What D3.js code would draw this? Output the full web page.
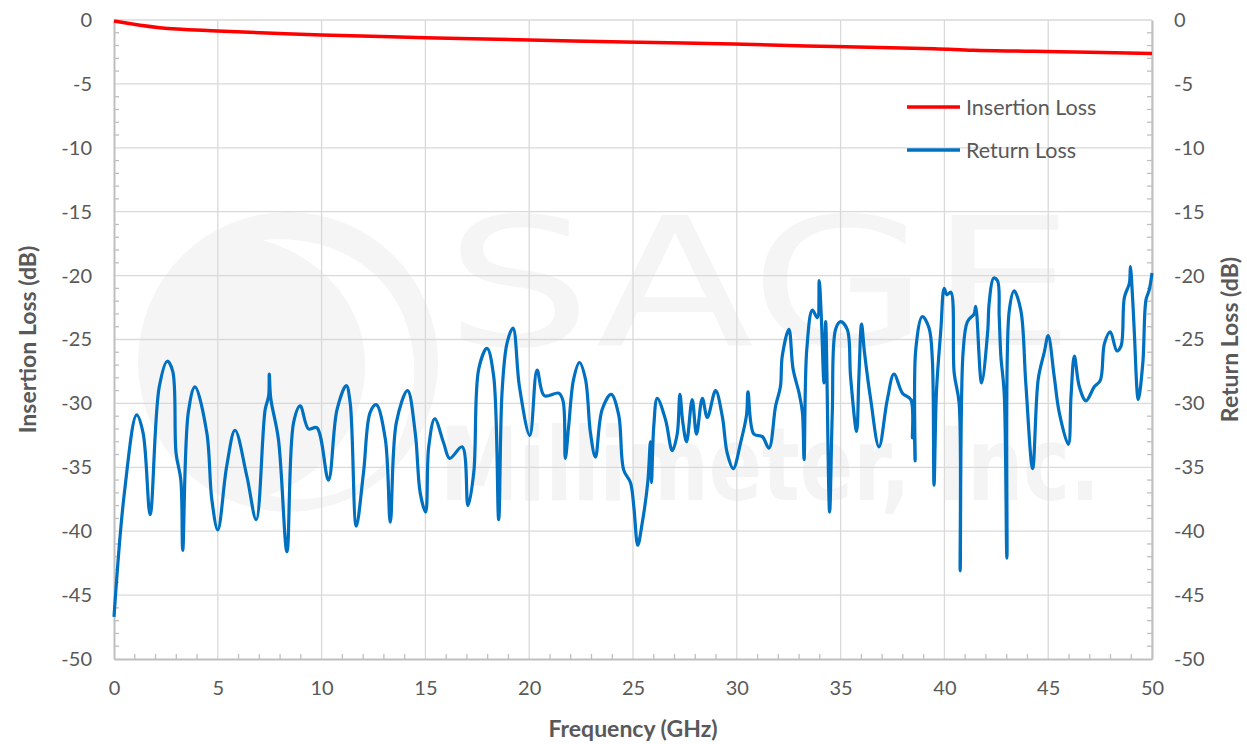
<!DOCTYPE html>
<html lang='en'>
<head>
  <meta charset='UTF-8'>
  <title>Insertion / Return Loss</title>
  <script src="https://d3js.org/d3.v7.min.js"></script>
  <style>
    body { margin: 0; background: #fff; }
    svg { display: block; }
    .tick text { font-family: 'Lato', 'Open Sans', sans-serif; font-size: 20px; fill: #595959; }
    .title { font-family: 'Lato', 'Open Sans', sans-serif; font-size: 23px; font-weight: bold; fill: #595959; }
    .legend { font-family: 'Lato', 'Open Sans', sans-serif; font-size: 21.5px; fill: #595959; }
  </style>
</head>
<body>
  <div id="chart"></div>
  <script>
    // Insertion loss (red)
    const ilFreq = [0, 2.2, 5, 10, 15, 20, 24.6, 29.85, 34.7, 39.5, 41.4, 44.3, 47, 50];
    const ilVal = [-0.08, -0.6, -0.86, -1.17, -1.38, -1.57, -1.72, -1.88, -2.08, -2.24, -2.37, -2.45, -2.52, -2.62];

    // Return loss (blue)
    const rlFreq = [
      0, 0.5, 1.09, 1.4, 1.74, 2.18, 2.57, 2.83, 2.99, 3.22, 3.31, 3.58, 3.9, 4.47, 4.71, 5.0,
      5.43, 5.83, 6.4, 6.85, 7.28, 7.45, 7.48, 7.55, 7.92, 8.33, 8.65, 8.97, 9.37, 9.77, 10.33,
      10.74, 11.19, 11.38, 11.67, 12.02, 12.34, 12.63, 13.07, 13.31, 13.6, 14.14, 14.51, 14.75,
      15.01, 15.16, 15.45, 15.88, 16.17, 16.77, 17.05, 17.33, 17.57, 17.97, 18.29, 18.53, 18.69,
      18.93, 19.22, 19.53, 20.03, 20.38, 20.73, 21.42, 21.63, 21.74, 21.9, 22.14, 22.42, 22.71,
      22.95, 23.19, 23.51, 23.95, 24.31, 24.55, 24.88, 25.04, 25.23, 25.44, 25.71, 25.84, 25.89,
      26.0, 26.17, 26.57, 26.89, 27.13, 27.26, 27.4, 27.58, 27.85, 28.06, 28.34, 28.58, 28.98,
      29.3, 29.54, 29.83, 30.18, 30.47, 30.54, 30.82, 31.23, 31.55, 31.87, 32.1, 32.19, 32.51,
      32.71, 33.0, 33.16, 33.24, 33.37, 33.64, 33.88, 33.97, 34.07, 34.2, 34.28, 34.47, 34.6,
      34.76, 35.0, 35.32, 35.48, 35.77, 35.88, 36.01, 36.15, 36.45, 36.85, 37.25, 37.57, 37.98,
      38.38, 38.46, 38.52, 38.59, 38.62, 38.94, 39.26, 39.42, 39.5, 39.62, 39.83, 39.99, 40.12,
      40.31, 40.47, 40.71, 40.76, 40.9, 41.11, 41.43, 41.51, 41.79, 42.08, 42.16, 42.37, 42.56,
      42.64, 42.72, 42.88, 43.01, 43.12, 43.36, 43.68, 43.92, 44.25, 44.52, 44.81, 45.0, 45.29,
      45.53, 45.97, 46.1, 46.26, 46.5, 46.82, 47.22, 47.51, 47.71, 47.99, 48.31, 48.51, 48.67,
      48.91, 48.96, 49.07, 49.15, 49.34, 49.56, 49.71, 49.87, 50.0
    ];
    const rlVal = [
      -46.7, -37.0, -30.9, -32.3, -38.7, -28.7, -26.7, -27.5, -33.9, -36.0, -41.5, -30.7, -28.7, -32.3, -37.5, -39.9,
      -34.9, -32.1, -35.7, -39.1, -30.5, -29.4, -27.7, -29.6, -32.8, -41.6, -31.5, -30.2, -32.0, -31.9, -36.0,
      -30.5, -28.6, -30.0, -39.6, -35.4, -30.7, -30.1, -32.8, -39.3, -31.5, -29.0, -32.3, -37.0,
      -38.5, -33.4, -31.2, -33.1, -34.3, -33.4, -38.0, -35.4, -27.3, -25.7, -27.9, -39.1, -29.2,
      -25.3, -24.1, -28.7, -32.5, -27.4, -29.4, -29.2, -29.8, -34.3, -31.8, -28.1, -26.8, -28.1,
      -32.3, -34.2, -30.5, -29.3, -30.9, -35.2, -36.2, -38.1, -41.1, -39.4, -36.2, -33.0, -36.2,
      -31.8, -29.6, -31.3, -33.7, -32.4, -29.3, -31.5, -33.0, -29.7, -32.4, -29.6, -31.1, -29.0,
      -31.0, -33.9, -35.1, -33.1, -30.9, -29.1, -32.4, -32.6, -33.5, -30.2, -28.7, -26.3, -24.2,
      -27.3, -29.2, -30.7, -34.4, -25.8, -22.7, -23.3, -20.4, -23.2, -28.4, -23.6, -38.5, -30.7,
      -24.2, -23.6, -24.2, -27.9, -32.2, -28.0, -23.8, -26.0, -29.7, -33.4, -29.7, -27.7, -29.2,
      -29.7, -32.7, -29.7, -34.5, -25.8, -23.2, -24.1, -26.6, -36.4, -29.0, -24.2, -21.0, -21.5,
      -21.3, -27.6, -30.0, -43.1, -26.0, -23.6, -23.0, -22.4, -28.4, -24.5, -22.1, -20.2, -20.4,
      -23.2, -26.3, -29.2, -42.1, -22.8, -21.2, -22.7, -28.4, -35.1, -28.1, -26.0, -24.7, -27.9,
      -30.7, -33.2, -29.4, -26.3, -28.7, -29.8, -28.7, -28.2, -25.3, -24.4, -25.9, -25.5, -21.7,
      -20.6, -19.3, -21.9, -24.5, -29.7, -26.8, -21.9, -21.1, -19.8
    ];

    const xTicks = [0, 5, 10, 15, 20, 25, 30, 35, 40, 45, 50];
    const yTicks = [0, -5, -10, -15, -20, -25, -30, -35, -40, -45, -50];
    const seriesNames = ['Insertion Loss', 'Return Loss'];
    const seriesColors = ['#ff0000', '#0070c0'];

    const W = 1247, H = 744;
    const margin = { top: 20, right: 95, bottom: 85, left: 114 };
    const innerW = W - margin.left - margin.right;
    const innerH = H - margin.top - margin.bottom;

    const svg = d3.select('#chart').append('svg')
      .attr('width', W).attr('height', H);

    const xScale = d3.scaleLinear().domain([0, 50]).range([margin.left, margin.left + innerW]);
    const yScale = d3.scaleLinear().domain([-50, 0]).range([margin.top + innerH, margin.top]);

    // watermark (faint logo behind grid)
    const wm = svg.append('g').attr('class', 'watermark');
    wm.append('circle').attr('cx', 288).attr('cy', 362).attr('r', 150).attr('fill', '#f5f5f5');
    wm.append('path')
      .attr('d', 'M 262 240 C 380 230, 445 330, 400 440 C 370 500, 300 505, 270 495 C 340 470, 380 400, 360 330 C 345 280, 300 250, 262 240 Z')
      .attr('fill', '#ffffff');
    wm.append('text')
      .attr('x', 445).attr('y', 345)
      .attr('textLength', 630).attr('lengthAdjust', 'spacingAndGlyphs')
      .style('font-family', 'DejaVu Sans').style('font-size', '178px')
      .attr('fill', '#f5f5f5')
      .text('SAGE');
    wm.append('text')
      .attr('x', 440).attr('y', 500)
      .attr('textLength', 660).attr('lengthAdjust', 'spacingAndGlyphs')
      .style('font-family', 'DejaVu Sans').style('font-size', '102px').style('font-weight', 'bold')
      .attr('fill', '#f4f4f4')
      .text('Millimeter, Inc.');

    // grid
    svg.append('g').selectAll('line').data(xTicks.slice(1)).join('line')
      .attr('x1', (d) => xScale(d)).attr('x2', (d) => xScale(d))
      .attr('y1', margin.top).attr('y2', margin.top + innerH)
      .attr('stroke', '#d9d9d9').attr('stroke-width', 1.3);
    svg.append('g').selectAll('line').data(yTicks.slice(0, -1)).join('line')
      .attr('x1', margin.left).attr('x2', margin.left + innerW)
      .attr('y1', (d) => yScale(d)).attr('y2', (d) => yScale(d))
      .attr('stroke', '#d9d9d9').attr('stroke-width', 1.3);

    // minor ticks (inside)
    const minorX = d3.range(1, 50).filter((d) => d % 5 !== 0);
    const minorY = d3.range(-49, 0).filter((d) => d % 5 !== 0);
    svg.append('g').selectAll('line').data(minorX).join('line')
      .attr('x1', (d) => xScale(d)).attr('x2', (d) => xScale(d))
      .attr('y1', margin.top + innerH).attr('y2', margin.top + innerH - 5)
      .attr('stroke', '#bfbfbf').attr('stroke-width', 1.3);
    svg.append('g').selectAll('line').data(minorY).join('line')
      .attr('x1', margin.left).attr('x2', margin.left + 5)
      .attr('y1', (d) => yScale(d)).attr('y2', (d) => yScale(d))
      .attr('stroke', '#bfbfbf').attr('stroke-width', 1.3);
    svg.append('g').selectAll('line').data(minorY).join('line')
      .attr('x1', margin.left + innerW).attr('x2', margin.left + innerW - 5)
      .attr('y1', (d) => yScale(d)).attr('y2', (d) => yScale(d))
      .attr('stroke', '#bfbfbf').attr('stroke-width', 1.3);

    // axes (plain hyphen minus like the original)
    const fmt = (d) => String(d);
    const xAxis = d3.axisBottom(xScale).tickValues(xTicks).tickSize(0).tickPadding(22).tickFormat(fmt);
    const yAxisL = d3.axisLeft(yScale).tickValues(yTicks).tickSize(0).tickPadding(22).tickFormat(fmt);
    const yAxisR = d3.axisRight(yScale).tickValues(yTicks).tickSize(0).tickPadding(22).tickFormat(fmt);

    const gx = svg.append('g').attr('transform', `translate(0, ${margin.top + innerH})`).call(xAxis);
    const gl = svg.append('g').attr('transform', `translate(${margin.left}, 0)`).call(yAxisL);
    const gr = svg.append('g').attr('transform', `translate(${margin.left + innerW}, 0)`).call(yAxisR);
    [gx, gl, gr].forEach((g) => g.select('.domain').attr('stroke', '#bfbfbf').attr('stroke-width', 2));

    // lines
    const line = d3.line()
      .curve(d3.curveCatmullRom.alpha(0.5))
      .x((d) => xScale(d[0]))
      .y((d) => yScale(d[1]));

    const ilData = ilFreq.map((f, i) => [f, ilVal[i]]);
    const rlData = rlFreq.map((f, i) => [f, rlVal[i]]);

    svg.append('path').datum(rlData)
      .attr('fill', 'none').attr('stroke', seriesColors[1])
      .attr('stroke-width', 3.2).attr('stroke-linejoin', 'round')
      .attr('d', line);

    svg.append('path').datum(ilData)
      .attr('fill', 'none').attr('stroke', seriesColors[0])
      .attr('stroke-width', 3.5).attr('stroke-linejoin', 'round')
      .attr('d', line);

    // legend
    const legend = svg.append('g').attr('transform', 'translate(907, 107)');
    seriesNames.forEach((name, i) => {
      const row = legend.append('g').attr('transform', `translate(0, ${i * 43})`);
      row.append('line').attr('x1', 0).attr('x2', 53)
        .attr('stroke', seriesColors[i]).attr('stroke-width', 3.5);
      row.append('text').attr('class', 'legend')
        .attr('x', 59).attr('y', 7.5).text(name);
    });

    // axis titles
    svg.append('text').attr('class', 'title')
      .attr('x', margin.left + innerW / 2).attr('y', 737)
      .attr('text-anchor', 'middle').text('Frequency (GHz)');
    svg.append('text').attr('class', 'title')
      .attr('transform', `translate(36, ${margin.top + innerH / 2}) rotate(-90)`)
      .attr('text-anchor', 'middle').text('Insertion Loss (dB)');
    svg.append('text').attr('class', 'title')
      .attr('transform', `translate(1238, ${margin.top + innerH / 2}) rotate(-90)`)
      .attr('text-anchor', 'middle').text('Return Loss (dB)');
  </script>
</body>
</html>
